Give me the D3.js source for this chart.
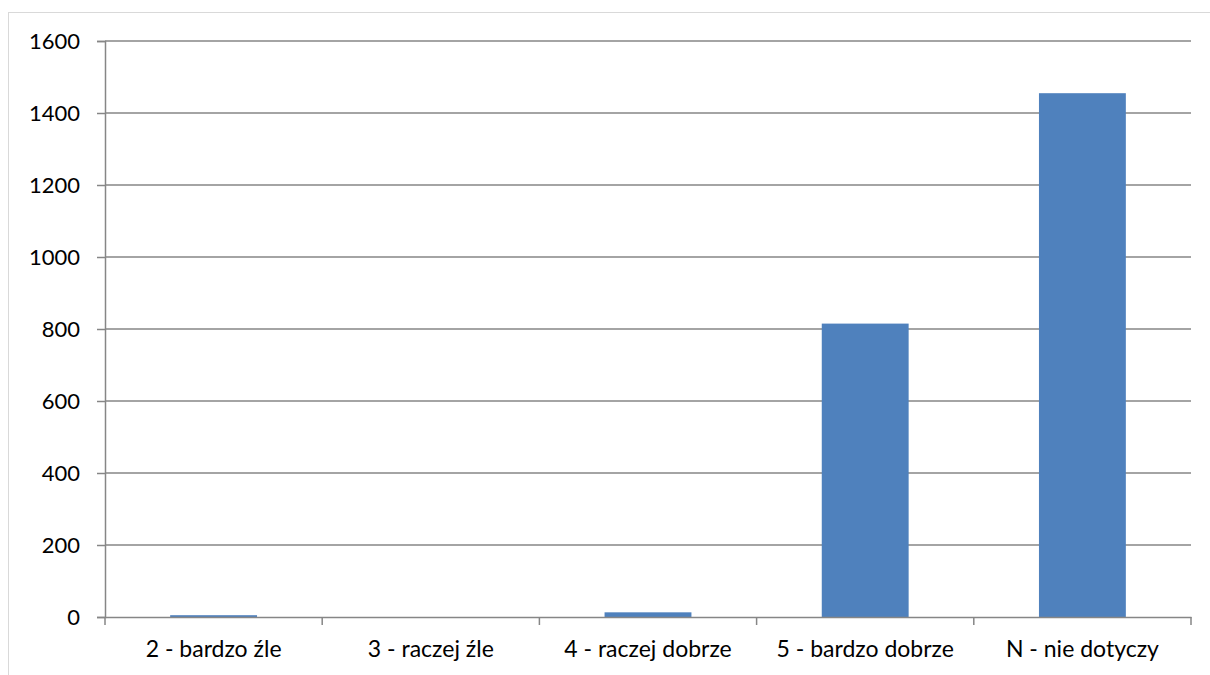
<!DOCTYPE html>
<html><head><meta charset="utf-8">
<script src="https://cdn.jsdelivr.net/npm/d3@7"></script>
<style>body{margin:0;background:#fff}svg{display:block}text{font-family:Lato,"Open Sans",sans-serif;fill:#000}</style>
</head><body><svg id="c" width="1210" height="675"></svg>
<script>
const categories = ["2 - bardzo źle","3 - raczej źle","4 - raczej dobrze","5 - bardzo dobrze","N - nie dotyczy"];
const values = [5, 0, 13, 815, 1455];
const yTicks = [0,200,400,600,800,1000,1200,1400,1600];

const svg = d3.select("#c");
const L = 105, R = 1191, T = 41, B = 617;
svg.append("rect").attr("x",8.5).attr("y",12.5).attr("width",1210).attr("height",700)
  .attr("fill","none").attr("stroke","#d9d9d9").attr("stroke-width",1);

const x = d3.scaleBand().domain(categories).range([L,R]).paddingInner(0.6).paddingOuter(0.3);
const xb = d3.scaleBand().domain(categories).range([L,R]);
const y = d3.scaleLinear().domain([0,1600]).range([B,T]);

const ya = svg.append("g").attr("transform",`translate(${L},0)`)
  .call(d3.axisLeft(y).tickValues(yTicks).tickSize(8).tickPadding(17).tickFormat(d3.format("d")));
ya.select(".domain").attr("stroke","#868686").attr("stroke-width",1.5);
ya.selectAll(".tick line").attr("stroke","#868686").attr("stroke-width",1.5);
ya.selectAll(".tick text").style("font-size","22px").attr("fill","#000");
svg.append("g").selectAll("line").data(yTicks.filter(d=>d>0)).join("line")
  .attr("x1",L).attr("x2",R).attr("y1",d=>y(d)).attr("y2",d=>y(d))
  .attr("stroke","#868686").attr("stroke-width",1.5);

svg.append("g").selectAll("rect").data(values).join("rect")
  .attr("x",(d,i)=>x(categories[i])).attr("width",x.bandwidth())
  .attr("y",d=>y(d)).attr("height",d=>B-y(d)).attr("fill","#4f81bd");

const xa = svg.append("g").attr("transform",`translate(0,${B})`)
  .call(d3.axisBottom(xb).tickSize(0).tickPadding(24));
xa.select(".domain").attr("stroke","#868686").attr("stroke-width",1.5);
xa.selectAll(".tick text").style("font-size","23px").attr("fill","#000");
const bounds = [L, ...categories.map(c=>xb(c)+xb.bandwidth())];
svg.append("g").selectAll("line").data(bounds).join("line")
  .attr("x1",d=>d).attr("x2",d=>d).attr("y1",B).attr("y2",B+8)
  .attr("stroke","#868686").attr("stroke-width",1.5);
</script></body></html>
